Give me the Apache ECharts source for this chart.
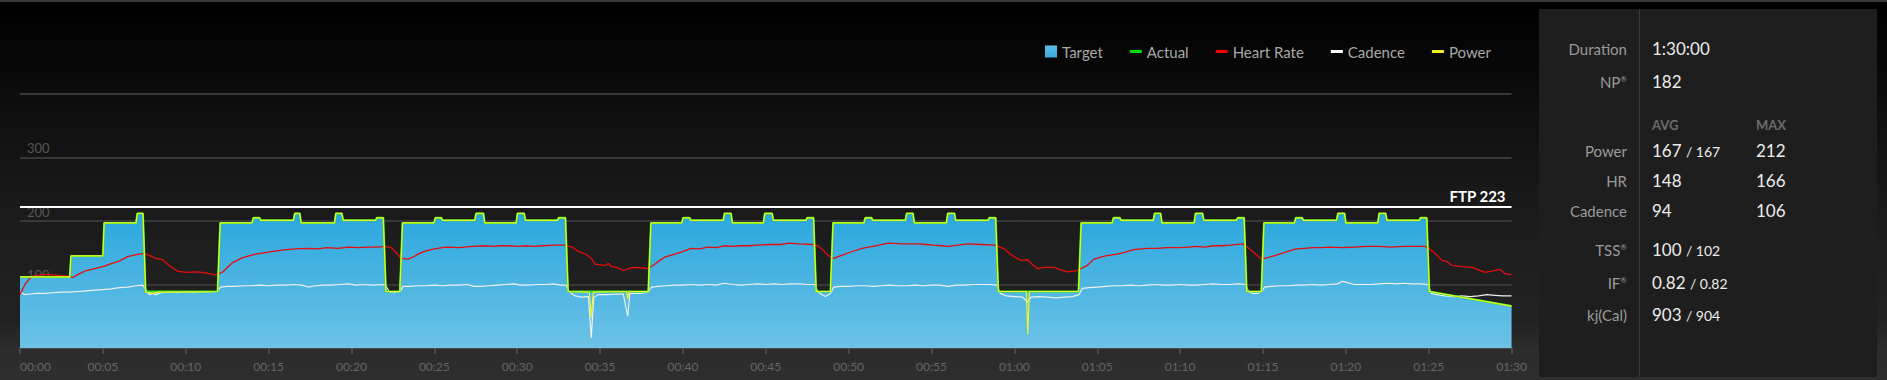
<!DOCTYPE html>
<html><head><meta charset="utf-8">
<script src="https://cdn.jsdelivr.net/npm/echarts@6/dist/echarts.min.js"></script>
<style>
html,body{margin:0;padding:0;}
body{width:1887px;height:380px;overflow:hidden;position:relative;font-family:Lato,"Open Sans",sans-serif;
background:linear-gradient(to bottom,#3b3b3b 0px,#3b3b3b 2px,#000 2px,#070707 60px,#101010 120px,#181818 190px,#1e1e1e 250px,#222 320px,#2c2c2c 350px,#2e2e2e 380px);}
#chart{position:absolute;left:0;top:0;width:1530px;height:380px;}
#panel{position:absolute;left:1539px;top:9px;width:338px;height:368px;background:#1e1e1e;}
#panel .vline{position:absolute;left:100px;top:0;width:1px;height:368px;background:#383838;}
.lbl{position:absolute;left:1539px;width:88px;text-align:right;color:#9a9a9a;font-size:15px;line-height:20px;white-space:nowrap;}
.val{position:absolute;left:1652px;color:#ececec;font-size:17px;line-height:20px;white-space:nowrap;}
.max{left:1756px;}
.hdr{position:absolute;color:#6b6b6b;font-size:13px;font-weight:bold;line-height:20px;}
.sm{font-size:14px;}
.r{font-size:8px;position:relative;top:-6px;}
</style>
</head>
<body>
<div id="panel"><div class="vline"></div></div>
<div class="lbl" style="top:39px">Duration</div><div class="val" style="top:39px">1:30:00</div>
<div class="lbl" style="top:72px">NP<span class="r">®</span></div><div class="val" style="top:72px">182</div>
<div class="hdr" style="top:115px;left:1652px">AVG</div><div class="hdr" style="top:115px;left:1756px">MAX</div>
<div class="lbl" style="top:141px">Power</div><div class="val" style="top:141px">167 <span class="sm">/ 167</span></div><div class="val max" style="top:141px">212</div>
<div class="lbl" style="top:171px">HR</div><div class="val" style="top:171px">148</div><div class="val max" style="top:171px">166</div>
<div class="lbl" style="top:201px">Cadence</div><div class="val" style="top:201px">94</div><div class="val max" style="top:201px">106</div>
<div class="lbl" style="top:240px">TSS<span class="r">®</span></div><div class="val" style="top:240px">100 <span class="sm">/ 102</span></div>
<div class="lbl" style="top:273px">IF<span class="r">®</span></div><div class="val" style="top:273px">0.82 <span class="sm">/ 0.82</span></div>
<div class="lbl" style="top:305px">kj(Cal)</div><div class="val" style="top:305px">903 <span class="sm">/ 904</span></div>
<div id="chart"></div>
<script>
// ---- data (time in minutes, values) ----
const xTickLabels = ['00:00','00:05','00:10','00:15','00:20','00:25','00:30','00:35','00:40','00:45','00:50','00:55','01:00','01:05','01:10','01:15','01:20','01:25','01:30'];
const yTickLabels = ['', '100', '200', '300', ''];
const ftp = 223;
const seriesNames = ['Target','Actual','Heart Rate','Cadence','Power'];

const targetWatts = [
 [0,112],[3.0,112],[3.08,145],[5.0,145],[5.08,197],[7.0,197],[7.08,212],[7.42,212],[7.58,89],
 [11.92,89],[12.08,197],[14.0,197],[14.08,205],[14.45,205],[14.53,201],[16.5,201],[16.58,212],[16.88,212],[16.96,197],[18.98,197],[19.06,212],[19.42,212],[19.5,201],[21.45,201],[21.53,205],[21.92,205],[22.08,89],
 [22.92,89],[23.08,197],[24.98,197],[25.06,205],[25.42,205],[25.5,201],[27.44,201],[27.52,212],[27.96,212],[28.04,197],[29.94,197],[30.02,212],[30.42,212],[30.5,201],[32.43,201],[32.51,205],[32.91,205],[33.07,89],
 [37.91,89],[38.07,197],[39.93,197],[40.01,205],[40.4,205],[40.48,201],[42.43,201],[42.51,212],[42.9,212],[42.98,197],[44.86,197],[44.94,212],[45.38,212],[45.46,201],[47.42,201],[47.5,205],[47.88,205],[48.04,89],
 [48.9,89],[49.06,197],[50.92,197],[51.0,205],[51.38,205],[51.46,201],[53.42,201],[53.5,212],[53.88,212],[53.96,197],[55.9,197],[55.98,212],[56.38,212],[56.46,201],[58.41,201],[58.49,205],[58.87,205],[59.03,89],
 [63.87,89],[64.03,197],[65.9,197],[65.98,205],[66.36,205],[66.44,201],[68.38,201],[68.46,212],[68.82,212],[68.9,197],[70.85,197],[70.93,212],[71.35,212],[71.43,201],[73.4,201],[73.48,205],[73.86,205],[74.02,89],
 [74.9,89],[75.06,197],[76.9,197],[76.98,205],[77.36,205],[77.44,201],[79.44,201],[79.52,212],[79.92,212],[80.0,197],[81.93,197],[82.01,212],[82.4,212],[82.48,201],[84.43,201],[84.51,205],[84.88,205],[85.04,89],
 [90,66]
];

const actualWatts = targetWatts;

const powerWatts = [
 [0,112],[3.0,112],[3.08,145],[5.0,145],[5.08,197],[7.0,197],[7.08,212],[7.42,212],[7.58,88],[8.0,86],[8.4,88],
 [11.92,89],[12.08,197],[14.0,197],[14.08,205],[14.45,205],[14.53,201],[16.5,201],[16.58,212],[16.88,212],[16.96,197],[18.98,197],[19.06,212],[19.42,212],[19.5,201],[21.45,201],[21.53,205],[21.92,205],[22.08,89],
 [22.92,89],[23.08,197],[24.98,197],[25.06,205],[25.42,205],[25.5,201],[27.44,201],[27.52,212],[27.96,212],[28.04,197],[29.94,197],[30.02,212],[30.42,212],[30.5,201],[32.43,201],[32.51,205],[32.91,205],[33.07,89],
 [34.35,88],[34.47,48],[34.59,88],[36.6,89],[36.67,77],[36.74,89],
 [37.91,89],[38.07,197],[39.93,197],[40.01,205],[40.4,205],[40.48,201],[42.43,201],[42.51,212],[42.9,212],[42.98,197],[44.86,197],[44.94,212],[45.38,212],[45.46,201],[47.42,201],[47.5,205],[47.88,205],[48.04,89],
 [48.9,89],[49.06,197],[50.92,197],[51.0,205],[51.38,205],[51.46,201],[53.42,201],[53.5,212],[53.88,212],[53.96,197],[55.9,197],[55.98,212],[56.38,212],[56.46,201],[58.41,201],[58.49,205],[58.87,205],[59.03,89],
 [60.72,89],[60.81,22],[60.9,89],
 [63.87,89],[64.03,197],[65.9,197],[65.98,205],[66.36,205],[66.44,201],[68.38,201],[68.46,212],[68.82,212],[68.9,197],[70.85,197],[70.93,212],[71.35,212],[71.43,201],[73.4,201],[73.48,205],[73.86,205],[74.02,89],
 [74.9,89],[75.06,197],[76.9,197],[76.98,205],[77.36,205],[77.44,201],[79.44,201],[79.52,212],[79.92,212],[80.0,197],[81.93,197],[82.01,212],[82.4,212],[82.48,201],[84.43,201],[84.51,205],[84.88,205],[85.04,89],
 [90,66]
];

const heartRate = [
 [0,84],[0.3,100],[0.6,110],[0.9,114],[1.2,115],[1.5,116],[2.0,115],[2.5,114],[3.0,113],[3.2,111],[3.5,116],[4.0,122],[4.5,125],[5.0,128],[5.5,133],[6.0,137],[6.5,144],[7.0,147],[7.5,149],[7.8,146],[8.2,141],[8.6,139],[9.0,130],[9.5,121],[10.0,119],[10.6,120],[11.0,119],[11.4,117],[11.8,115],[12.2,119],[12.8,134],[13.4,142],[14.2,148],[15.0,151],[15.8,154],[16.6,156],[17.4,157],[18.0,156],[18.5,158],[19.2,157],[19.8,159],[20.4,158],[21.0,159],[21.6,159],[22.0,160],[22.4,158],[22.7,150],[23.0,141],[23.4,140],[23.7,143],[24.1,149],[24.5,153],[25.0,156],[25.7,159],[26.5,158],[27.3,160],[28.1,161],[28.6,160],[29.0,161],[29.5,161],[30.0,160],[30.5,161],[31.0,160],[31.5,161],[32.3,162],[32.9,162],[33.3,159],[33.7,152],[33.9,150],[34.2,147],[34.5,140],[34.7,132],[35.0,131],[35.3,130],[35.5,133],[35.7,128],[36.0,127],[36.4,122],[36.8,126],[37.1,127],[37.5,126],[37.9,125],[38.3,132],[38.6,138],[38.9,143],[39.4,147],[39.9,151],[40.5,157],[41.0,156],[41.5,159],[42.0,158],[42.5,161],[43.0,160],[43.5,161],[44.0,161],[44.5,162],[45.3,163],[45.9,163],[46.4,165],[47.0,164],[47.8,163],[48.2,160],[48.5,153],[48.8,145],[49.1,141],[49.5,145],[50.0,150],[50.8,157],[51.6,161],[52.4,165],[53.3,164],[54.2,164],[54.7,163],[55.1,162],[55.6,161],[56.0,160],[56.6,162],[57.2,164],[58.0,163],[58.8,162],[59.4,156],[59.8,147],[60.1,142],[60.4,138],[60.8,139],[61.1,131],[61.4,125],[61.8,127],[62.4,127],[62.8,123],[63.2,120],[63.8,122],[64.4,130],[64.8,140],[65.5,145],[66.2,148],[66.7,151],[67.2,155],[68.0,157],[68.6,157],[69.2,158],[70.0,158],[70.5,159],[71.0,160],[71.5,159],[72.0,161],[72.5,161],[73.0,162],[73.8,164],[74.2,156],[74.6,147],[74.9,140],[75.4,143],[76.0,148],[76.5,152],[77.0,156],[77.5,157],[78.0,158],[78.5,158],[79.0,159],[79.8,158],[80.5,159],[81.2,160],[82.0,160],[82.7,159],[83.5,160],[84.2,160],[84.8,160],[85.2,153],[85.5,146],[85.8,138],[86.1,136],[86.4,130],[87.0,128],[87.6,127],[88.0,123],[88.4,119],[88.8,121],[89.3,124],[89.6,117],[90.0,115]
];

const cadence = [
 [0,88],[0.3,84],[0.6,85],[1.0,86],[1.5,86],[2.0,87],[2.5,88],[3.0,88],[3.5,89],[4.0,90],[4.5,91],[5.0,92],[5.5,93],[6.0,95],[6.5,96],[7.0,98],[7.4,99],[7.6,92],[7.8,84],[8.0,86],[8.2,84],[8.5,87],[9.0,88],[9.5,87],[10.0,88],[10.5,87],[11.0,88],[11.5,88],[11.9,89],[12.1,96],[12.5,97],[13.0,97],[13.5,98],[14.0,98],[14.5,99],[15.0,98],[15.5,99],[16.0,99],[16.5,100],[17.0,99],[17.4,96],[17.8,98],[18.3,99],[18.8,99],[19.3,100],[19.8,101],[20.3,99],[20.8,100],[21.3,99],[21.8,100],[22.05,99],[22.3,88],[22.6,87],[22.95,89],[23.1,97],[23.5,97],[24.0,98],[24.5,98],[25.0,99],[25.5,98],[26.0,99],[26.5,99],[27.0,100],[27.4,97],[27.8,97],[28.3,98],[28.8,99],[29.3,100],[29.8,101],[30.2,99],[30.7,99],[31.2,100],[31.7,100],[32.2,101],[32.6,99],[32.95,99],[33.15,88],[33.5,82],[33.9,80],[34.3,81],[34.47,16],[34.62,80],[34.9,84],[35.5,84],[36.0,85],[36.4,85],[36.67,50],[36.8,86],[37.4,86],[37.9,88],[38.1,96],[38.5,97],[39.0,98],[39.5,99],[40.0,99],[40.5,100],[41.0,99],[41.5,100],[42.0,99],[42.5,102],[43.0,100],[43.5,99],[44.0,100],[44.5,101],[45.0,100],[45.5,101],[46.0,100],[46.5,101],[47.0,101],[47.5,100],[47.95,100],[48.15,88],[48.4,84],[48.6,81],[48.9,86],[49.1,96],[49.5,97],[50.0,97],[50.5,98],[51.0,98],[51.5,97],[52.0,98],[52.5,99],[53.0,98],[53.5,98],[54.0,99],[54.5,98],[55.0,99],[55.5,99],[56.0,97],[56.5,99],[57.0,99],[57.5,100],[58.0,100],[58.5,100],[58.95,99],[59.15,86],[59.5,82],[60.0,81],[60.5,80],[60.8,72],[61.0,80],[61.5,81],[62.0,80],[62.5,79],[63.0,80],[63.5,81],[63.9,84],[64.1,94],[64.5,95],[65.0,96],[65.5,97],[66.0,98],[66.5,98],[67.0,99],[67.5,98],[68.0,99],[68.5,100],[69.0,99],[69.5,99],[70.0,100],[70.5,99],[71.0,99],[71.5,100],[72.0,101],[72.5,100],[73.0,100],[73.5,101],[73.95,100],[74.15,88],[74.4,86],[74.7,86],[74.95,90],[75.1,96],[75.5,97],[76.0,98],[76.5,98],[77.0,99],[77.5,99],[78.0,100],[78.5,99],[79.0,100],[79.5,101],[79.8,105],[80.1,103],[80.5,100],[81.0,100],[81.5,100],[82.0,101],[82.5,102],[83.0,101],[83.5,102],[84.0,101],[84.5,101],[84.95,100],[85.15,86],[85.5,84],[86.0,82],[86.5,81],[87.0,82],[87.5,81],[88.0,82],[88.5,84],[89.0,83],[89.5,82],[90.0,82]
];

// ---- chart ----
const chart = echarts.init(document.getElementById('chart'), null, {renderer:'svg'});
const areaGrad = new echarts.graphic.LinearGradient(0,0,0,1,[{offset:0,color:'#2aa7de'},{offset:1,color:'#6cc2e6'}]);
const lineIcon = 'path://M0,0L0.01,0L0.01,0.01Z M0,4.5L12,4.5L12,7.5L0,7.5Z M11.99,11.99L12,11.99L12,12Z';
const FONT = 'Lato, "Open Sans", sans-serif';

chart.setOption({
  animation:false,
  backgroundColor:'transparent',
  textStyle:{fontFamily:FONT},
  grid:{left:20,right:9,top:94,bottom:32},
  legend:{
    right:34, top:39, itemWidth:12, itemHeight:12, itemGap:27,
    textStyle:{color:'#a8a8a8',fontSize:15,fontFamily:FONT},
    itemStyle:{borderWidth:0},
    data:[
      {name:seriesNames[0],icon:'rect',itemStyle:{color:new echarts.graphic.LinearGradient(0,0,0,1,[{offset:0,color:'#5cbde8'},{offset:1,color:'#3aa9dc'}])}},
      {name:seriesNames[1],icon:lineIcon},
      {name:seriesNames[2],icon:lineIcon},
      {name:seriesNames[3],icon:lineIcon},
      {name:seriesNames[4],icon:lineIcon}
    ]
  },
  xAxis:{
    type:'value', min:0, max:90, interval:5,
    axisLine:{lineStyle:{color:'#4a4a4a',width:2}},
    axisTick:{show:true,length:6,lineStyle:{color:'#555',width:1.5}},
    axisLabel:{color:'#666',fontSize:12,margin:12,fontFamily:FONT,alignMinLabel:'left',
      formatter:v=>xTickLabels[Math.round(v/5)]},
    splitLine:{show:false}
  },
  yAxis:{
    type:'value', min:0, max:400, interval:100,
    axisLine:{show:false}, axisTick:{show:false},
    axisLabel:{inside:true,margin:7,color:'#555',fontSize:13,verticalAlign:'bottom',padding:[0,0,3,0],fontFamily:FONT,
      formatter:v=>yTickLabels[Math.round(v/100)]},
    splitLine:{lineStyle:{color:'#383838',width:2}}
  },
  series:[
    {name:seriesNames[0],type:'line',data:targetWatts,symbol:'none',z:1,
     lineStyle:{width:0,opacity:0},itemStyle:{color:'#3aa9dc'},areaStyle:{color:areaGrad,opacity:1},
     markLine:{silent:true,symbol:'none',
       lineStyle:{color:'#ffffff',width:2,type:'solid'},
       label:{show:true,position:'insideEndTop',distance:[6,3],formatter:'FTP '+ftp,color:'#ffffff',fontWeight:'bold',fontSize:15,fontFamily:FONT},
       data:[{yAxis:ftp}]}},
    {name:seriesNames[3],type:'line',data:cadence,symbol:'none',z:3,
     lineStyle:{color:'#f0f0f0',width:1.2},itemStyle:{color:'#ffffff'}},
    {name:seriesNames[2],type:'line',data:heartRate,symbol:'none',z:4,
     lineStyle:{color:'#e80c0c',width:1.3},itemStyle:{color:'#ee0000'}},
    {name:seriesNames[1],type:'line',data:actualWatts,symbol:'none',z:5,
     lineStyle:{color:'#2ee81c',width:2},itemStyle:{color:'#00e000'}},
    {name:seriesNames[4],type:'line',data:powerWatts,symbol:'none',z:6,
     lineStyle:{color:'#eef52a',width:1.2},itemStyle:{color:'#f0f020'}}
  ]
});
</script>
</body></html>
